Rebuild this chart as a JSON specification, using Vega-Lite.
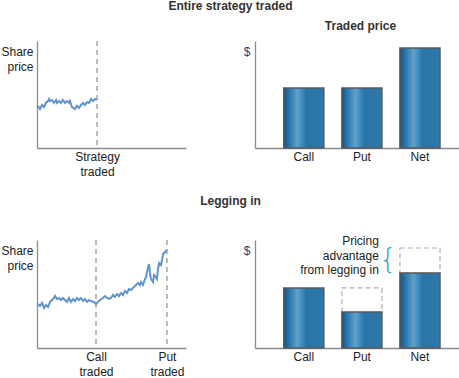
{
  "$schema": "https://vega.github.io/schema/vega-lite/v6.json",
  "padding": 0,
  "spacing": 17,
  "config": {
    "font": "Liberation Sans",
    "view": {"stroke": null},
    "axis": {"domainColor": "#8c8c8c", "domainWidth": 1.3, "ticks": false, "grid": false, "labelFont": "Liberation Sans", "labelFontSize": 12, "labelColor": "#222222", "labelFlush": false, "labelOverlap": false, "labelLineHeight": 15.5, "titleFont": "Liberation Sans", "titleFontSize": 12, "titleFontWeight": "normal", "titleColor": "#222222", "titleLineHeight": 15},
    "title": {"font": "Liberation Sans", "fontSize": 12, "fontWeight": "bold", "color": "#333333", "anchor": "middle"}
  },
  "datasets": {
    "line_top": [
      {"t": 0.7, "p": 39.3}, {"t": 2.0, "p": 36.4}, {"t": 3.4, "p": 40.2}, {"t": 4.7, "p": 38.3}, {"t": 6.0, "p": 42.1},
      {"t": 7.4, "p": 43.9}, {"t": 8.1, "p": 45.8}, {"t": 8.7, "p": 43.9}, {"t": 10.1, "p": 44.9}, {"t": 11.4, "p": 42.1},
      {"t": 12.8, "p": 44.9}, {"t": 13.4, "p": 42.1}, {"t": 14.8, "p": 43.9}, {"t": 16.1, "p": 42.1}, {"t": 17.4, "p": 44.9},
      {"t": 18.8, "p": 42.1}, {"t": 20.1, "p": 43.9}, {"t": 21.5, "p": 42.1}, {"t": 22.1, "p": 43.9}, {"t": 23.5, "p": 38.3},
      {"t": 25.5, "p": 36.4}, {"t": 26.8, "p": 39.3}, {"t": 28.2, "p": 37.4}, {"t": 29.5, "p": 40.2}, {"t": 30.9, "p": 42.1},
      {"t": 32.2, "p": 40.2}, {"t": 33.6, "p": 43.0}, {"t": 34.9, "p": 42.1}, {"t": 36.2, "p": 45.8}, {"t": 37.6, "p": 43.9},
      {"t": 38.9, "p": 45.8}, {"t": 40.3, "p": 44.9}
    ],
    "line_bottom": [
      {"t": 0.7, "p": 40.7}, {"t": 2.0, "p": 38.9}, {"t": 3.4, "p": 41.7}, {"t": 4.7, "p": 37.0}, {"t": 6.0, "p": 39.8},
      {"t": 7.4, "p": 38.0}, {"t": 8.7, "p": 42.6}, {"t": 10.1, "p": 44.4}, {"t": 11.4, "p": 46.3}, {"t": 12.1, "p": 48.1},
      {"t": 13.4, "p": 45.4}, {"t": 14.8, "p": 46.3}, {"t": 16.1, "p": 44.4}, {"t": 17.4, "p": 46.3}, {"t": 18.8, "p": 44.4},
      {"t": 20.1, "p": 42.6}, {"t": 21.5, "p": 46.3}, {"t": 22.8, "p": 42.6}, {"t": 24.2, "p": 45.4}, {"t": 25.5, "p": 43.5},
      {"t": 26.8, "p": 46.3}, {"t": 28.2, "p": 44.4}, {"t": 29.5, "p": 46.3}, {"t": 30.9, "p": 43.5}, {"t": 32.2, "p": 45.4},
      {"t": 33.6, "p": 42.6}, {"t": 34.9, "p": 44.4}, {"t": 36.2, "p": 43.5}, {"t": 38.3, "p": 42.6}, {"t": 39.6, "p": 40.7},
      {"t": 40.9, "p": 42.6}, {"t": 42.3, "p": 44.4}, {"t": 44.3, "p": 46.3}, {"t": 45.6, "p": 48.1}, {"t": 47.0, "p": 46.3},
      {"t": 48.3, "p": 45.4}, {"t": 49.7, "p": 46.3}, {"t": 51.0, "p": 49.1}, {"t": 52.3, "p": 47.2}, {"t": 53.7, "p": 50.0},
      {"t": 55.0, "p": 48.1}, {"t": 56.4, "p": 50.9}, {"t": 57.7, "p": 49.1}, {"t": 59.1, "p": 52.8}, {"t": 60.4, "p": 50.9},
      {"t": 61.7, "p": 54.6}, {"t": 63.1, "p": 53.7}, {"t": 64.4, "p": 55.6}, {"t": 65.8, "p": 57.4}, {"t": 66.4, "p": 58.3},
      {"t": 67.8, "p": 60.2}, {"t": 69.1, "p": 58.3}, {"t": 69.8, "p": 61.1}, {"t": 71.1, "p": 58.3}, {"t": 72.5, "p": 63.9},
      {"t": 73.2, "p": 65.7}, {"t": 73.8, "p": 70.4}, {"t": 75.2, "p": 77.8}, {"t": 75.8, "p": 69.4}, {"t": 76.5, "p": 63.9},
      {"t": 77.9, "p": 61.1}, {"t": 78.5, "p": 67.6}, {"t": 79.2, "p": 66.7}, {"t": 80.5, "p": 63.9}, {"t": 81.2, "p": 73.1},
      {"t": 81.9, "p": 78.7}, {"t": 83.2, "p": 76.9}, {"t": 83.9, "p": 81.5}, {"t": 84.6, "p": 87.0}, {"t": 85.9, "p": 88.9},
      {"t": 87.2, "p": 90.7}
    ],
    "events_top": [{"t": 40.3, "label": "Strategy traded"}],
    "events_bottom": [{"t": 39.6, "label": "Call traded"}, {"t": 87.2, "label": "Put traded"}],
    "bars_top": [{"leg": "Call", "price": 56.1}, {"leg": "Put", "price": 56.1}, {"leg": "Net", "price": 93.5}],
    "bars_bottom": [{"leg": "Call", "price": 55.6}, {"leg": "Put", "price": 33.3}, {"leg": "Net", "price": 69.4}],
    "ghost_bottom": [{"leg": "Put", "lo": 33.3, "hi": 55.6}, {"leg": "Net", "lo": 69.4, "hi": 92.6}],
    "note_bottom": [{"leg": "Put", "y": 99.0, "text": "Pricing\nadvantage\nfrom legging in"}],
    "brace_bottom": [{"leg": "Net", "y": 81.0, "text": "{"}]
  },
  "vconcat": [
    {
      "title": {"text": "Entire strategy traded", "offset": 7},
      "spacing": 69,
      "bounds": "flush",
      "hconcat": [
        {
          "width": 149, "height": 107,
          "layer": [
            {
              "data": {"name": "events_top"},
              "mark": {"type": "rule", "color": "#8c8c8c", "strokeDash": [5, 4], "strokeWidth": 1.2},
              "encoding": {
                "x": {"field": "t", "type": "quantitative", "scale": {"domain": [0, 100]},
                  "axis": {"title": null, "values": [40.3], "labelExpr": "['Strategy', 'traded']", "labelPadding": 3}}
              }
            },
            {
              "data": {"name": "line_top"},
              "mark": {"type": "line", "color": "#5f94cf", "strokeWidth": 2},
              "encoding": {
                "x": {"field": "t", "type": "quantitative", "scale": {"domain": [0, 100]}},
                "y": {"field": "p", "type": "quantitative", "scale": {"domain": [0, 100]},
                  "axis": {"title": ["Share", "price"], "labels": false, "titleAngle": 0, "titleAlign": "right", "titleBaseline": "top", "titleX": -4, "titleY": 5}}
              }
            }
          ]
        },
        {
          "width": 205, "height": 107,
          "title": {"text": "Traded price", "offset": 8, "frame": "group", "dx": 3},
          "data": {"name": "bars_top"},
          "mark": {"type": "bar", "stroke": "#5a5a5a", "strokeWidth": 1.5,
            "fill": {"gradient": "linear", "x1": 0, "y1": 0, "x2": 1, "y2": 0,
              "stops": [{"offset": 0, "color": "#0b568a"}, {"offset": 0.12, "color": "#2673a9"}, {"offset": 0.34, "color": "#5ea1cd"}, {"offset": 0.52, "color": "#2e7fb3"}, {"offset": 0.57, "color": "#2a74a6"}, {"offset": 1, "color": "#2f79aa"}]}},
          "encoding": {
            "x": {"field": "leg", "type": "nominal", "sort": ["Call", "Put", "Net"],
              "scale": {"paddingInner": 0.31, "paddingOuter": 0.42, "align": 0.59},
              "axis": {"title": null, "labelAngle": 0, "labelPadding": 3}},
            "y": {"field": "price", "type": "quantitative", "scale": {"domain": [0, 100]},
              "axis": {"title": "$", "labels": false, "titleAngle": 0, "titleAlign": "right", "titleBaseline": "top", "titleX": -5, "titleY": 5, "titleColor": "#2a3d78"}}
          }
        }
      ]
    },
    {
      "title": {"text": "Legging in", "offset": 27},
      "spacing": 69,
      "bounds": "flush",
      "hconcat": [
        {
          "width": 149, "height": 108,
          "layer": [
            {
              "data": {"name": "events_bottom"},
              "mark": {"type": "rule", "color": "#8c8c8c", "strokeDash": [5, 4], "strokeWidth": 1.2},
              "encoding": {
                "x": {"field": "t", "type": "quantitative", "scale": {"domain": [0, 100]},
                  "axis": {"title": null, "values": [39.6, 87.2], "labelExpr": "datum.value < 60 ? ['Call', 'traded'] : ['Put', 'traded']", "labelPadding": 3}}
              }
            },
            {
              "data": {"name": "line_bottom"},
              "mark": {"type": "line", "color": "#5f94cf", "strokeWidth": 2},
              "encoding": {
                "x": {"field": "t", "type": "quantitative", "scale": {"domain": [0, 100]}},
                "y": {"field": "p", "type": "quantitative", "scale": {"domain": [0, 100]},
                  "axis": {"title": ["Share", "price"], "labels": false, "titleAngle": 0, "titleAlign": "right", "titleBaseline": "top", "titleX": -4, "titleY": 5}}
              }
            }
          ]
        },
        {
          "width": 205, "height": 108,
          "encoding": {
            "x": {"field": "leg", "type": "nominal", "sort": ["Call", "Put", "Net"],
              "scale": {"domain": ["Call", "Put", "Net"], "paddingInner": 0.31, "paddingOuter": 0.42, "align": 0.59},
              "axis": {"title": null, "labelAngle": 0, "labelPadding": 3}}
          },
          "layer": [
            {
              "data": {"name": "ghost_bottom"},
              "mark": {"type": "bar", "fill": "#ffffff", "stroke": "#b0b0b0", "strokeWidth": 1.2, "strokeDash": [5, 3]},
              "encoding": {
                "y": {"field": "lo", "type": "quantitative", "scale": {"domain": [0, 100]},
                  "axis": {"title": "$", "labels": false, "titleAngle": 0, "titleAlign": "right", "titleBaseline": "top", "titleX": -5, "titleY": 5, "titleColor": "#2a3d78"}},
                "y2": {"field": "hi"}
              }
            },
            {
              "data": {"name": "bars_bottom"},
              "mark": {"type": "bar", "stroke": "#5a5a5a", "strokeWidth": 1.5,
                "fill": {"gradient": "linear", "x1": 0, "y1": 0, "x2": 1, "y2": 0,
                  "stops": [{"offset": 0, "color": "#0b568a"}, {"offset": 0.12, "color": "#2673a9"}, {"offset": 0.34, "color": "#5ea1cd"}, {"offset": 0.52, "color": "#2e7fb3"}, {"offset": 0.57, "color": "#2a74a6"}, {"offset": 1, "color": "#2f79aa"}]}},
              "encoding": {
                "y": {"field": "price", "type": "quantitative", "scale": {"domain": [0, 100]}}
              }
            },
            {
              "data": {"name": "note_bottom"},
              "mark": {"type": "text", "align": "right", "baseline": "middle", "dx": 17, "fontSize": 12, "color": "#222222", "lineHeight": 14.5, "lineBreak": "\n"},
              "encoding": {
                "y": {"field": "y", "type": "quantitative"},
                "text": {"field": "text"}
              }
            },
            {
              "data": {"name": "brace_bottom"},
              "mark": {"type": "text", "align": "center", "baseline": "middle", "dx": -32, "fontSize": 28, "font": "DejaVu Sans", "fontWeight": 200, "color": "#3a9bd0"},
              "encoding": {
                "y": {"field": "y", "type": "quantitative"},
                "text": {"field": "text"}
              }
            }
          ]
        }
      ]
    }
  ]
}
